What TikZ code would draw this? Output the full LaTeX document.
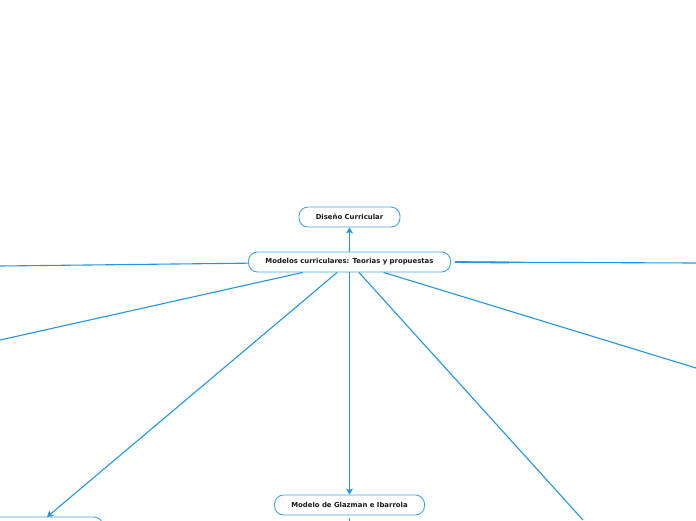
\documentclass[tikz,border=0pt]{standalone}
\usepackage{fontspec}
\newfontfamily\nf{DejaVu Sans}
\usetikzlibrary{arrows.meta}
\definecolor{lc}{RGB}{36,150,224}
\definecolor{bc}{RGB}{66,166,228}
\tikzset{
  box/.style={draw=bc, line width=0.9pt, rounded corners=9pt, fill=white, minimum height=20pt, inner sep=0pt, font=\nf\bfseries\fontsize{6.9}{8}\selectfont, text=black!90},
  conn/.style={draw=lc, line width=1.1pt},
  arr/.style={conn, -{Stealth[length=6pt,width=7pt,inset=1.5pt]}}
}
\begin{document}
\begin{tikzpicture}[x=1pt,y=-1pt]
\useasboundingbox (0,0) rectangle (696,520);
\clip (0,0) rectangle (696,520);
\node[box, minimum width=202pt] (c) at (349.5,262) {Modelos curriculares: Teorias y propuestas};
\node[box, minimum width=101pt] (d) at (349.5,217) {Diseño Curricular};
\node[box, minimum width=150pt] (g) at (349.5,505) {Modelo de Glazman e Ibarrola};
\node[box, minimum width=160pt] (bl) at (23,527) {};
\coordinate (blt) at (47,517);
\coordinate (l1) at (0,266);
\coordinate (l2) at (0,340);
\coordinate (r4) at (583,520);
\coordinate (r5) at (696,368);
\coordinate (r6) at (696,263);
\coordinate (r6a) at (509,262.5);
\coordinate (gb) at (349.5,530);
\draw[arr] (c) -- (d);
\draw[arr] (c) -- (g);
\draw[arr] (c) -- (blt);
\draw[conn] (c) -- (l1);
\draw[conn] (c) -- (l2);
\draw[conn] (c) -- (r4);
\draw[conn] (c) -- (r5);
\draw[conn, shorten <=4pt] (c.east) -- (r6);
\draw[conn, line width=1.8pt, shorten <=4pt] (c.east) -- (r6a);
\draw[conn, shorten <=3pt] (g.south) -- (gb);
\end{tikzpicture}
\end{document}
